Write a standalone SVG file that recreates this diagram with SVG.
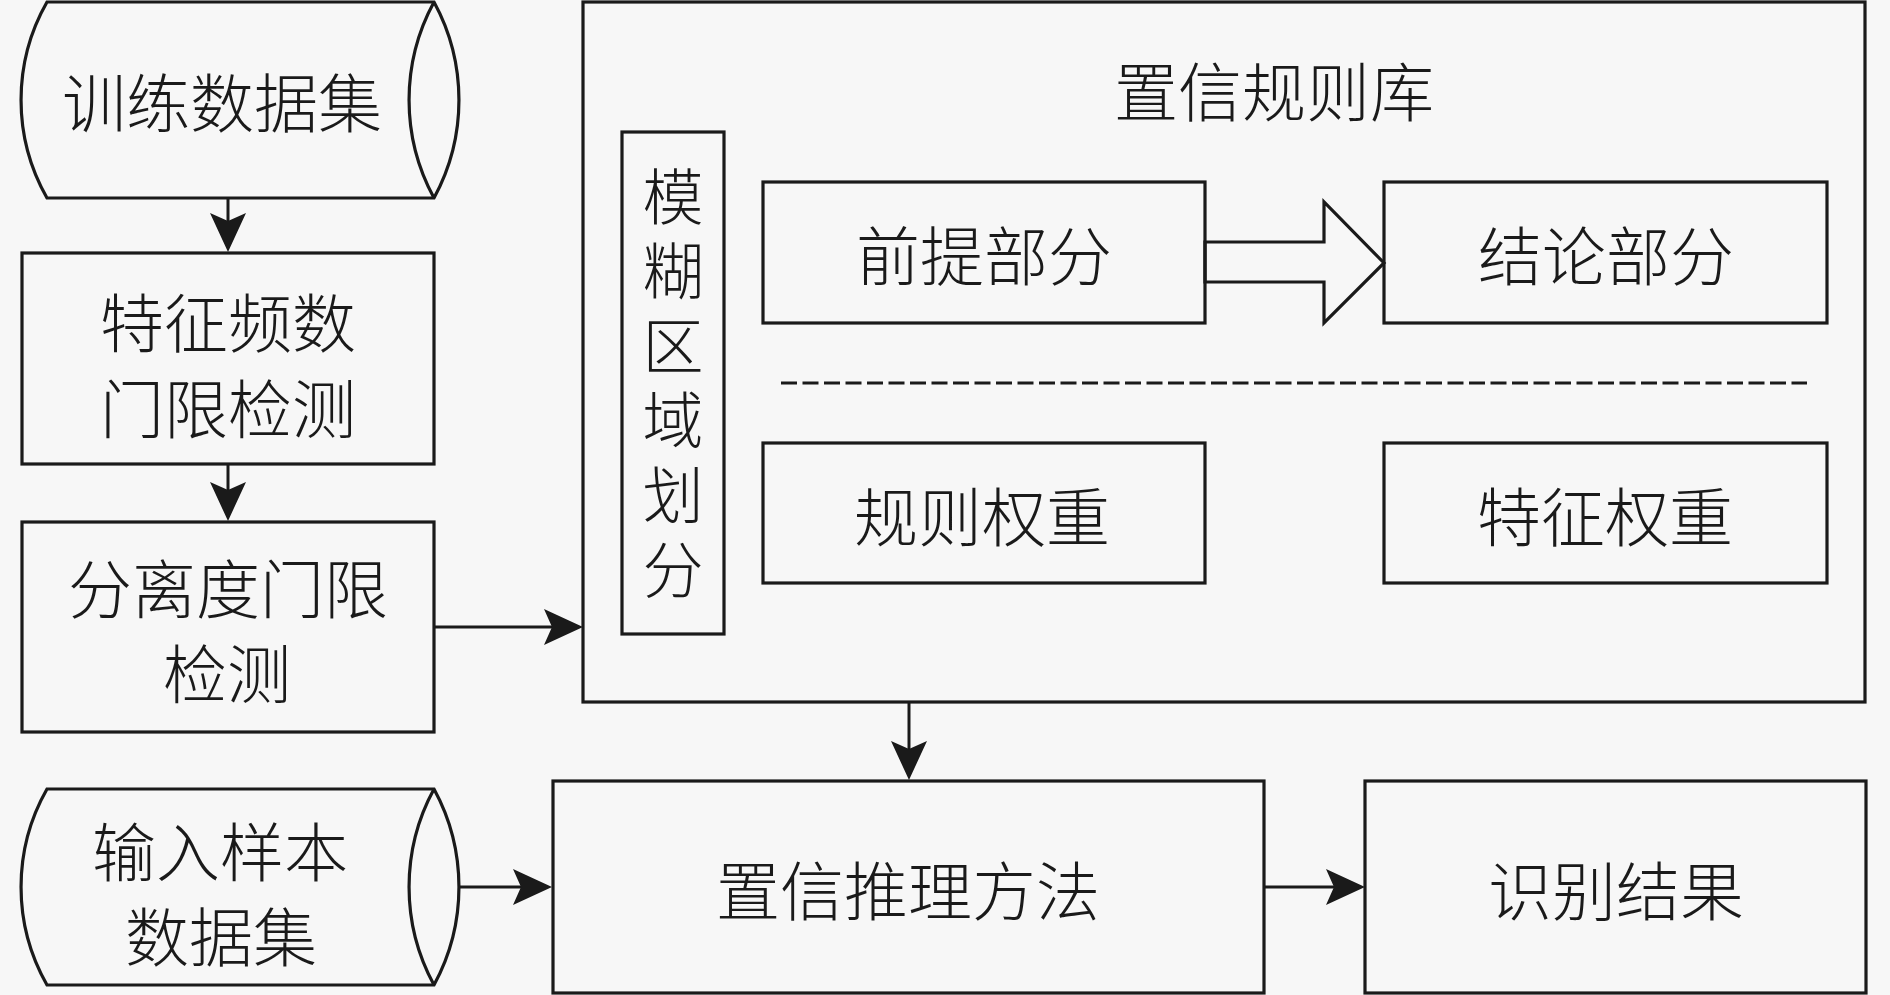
<svg xmlns="http://www.w3.org/2000/svg" width="1890" height="995" viewBox="0 0 1890 995">
<defs>
<style>
.bx{fill:none;stroke:#1a1a1a;stroke-width:3.2}
.ln{fill:none;stroke:#1a1a1a;stroke-width:3}
.t{font-family:"Noto Sans CJK SC","Noto Sans CJK TC",sans-serif;font-size:64px;font-weight:300;fill:#1a1a1a;text-anchor:middle;dominant-baseline:central}
.tv{font-family:"Noto Sans CJK SC","Noto Sans CJK TC",sans-serif;font-size:61px;font-weight:300;fill:#1a1a1a;text-anchor:start;writing-mode:vertical-rl;letter-spacing:13.6px}
</style>
<marker id="ah" viewBox="-40 -20 42 40" markerWidth="42" markerHeight="40" refX="-20" refY="0" orient="auto" markerUnits="userSpaceOnUse">
<path d="M0,0 L-39,-18 L-31,0 L-39,18 Z" fill="#1a1a1a"/>
</marker>
</defs>
<rect x="0" y="0" width="1890" height="995" fill="#f7f7f7"/>

<g id="connectors">
<path class="ln" d="M228,198 V232" marker-end="url(#ah)"/>
<path class="ln" d="M228,465 V501" marker-end="url(#ah)"/>
<path class="ln" d="M434,627 H563" marker-end="url(#ah)"/>
<path class="ln" d="M909,702 V760" marker-end="url(#ah)"/>
<path class="ln" d="M460,887 H532" marker-end="url(#ah)"/>
<path class="ln" d="M1264,887 H1345" marker-end="url(#ah)"/>
<polygon id="hollow-arrow" class="bx" points="1205,242 1324,242 1324,202 1384,263 1324,323 1324,282 1205,282" fill="#f7f7f7"/>
<line id="dash-sep" x1="781" y1="383" x2="1807" y2="383" stroke="#1a1a1a" stroke-width="3" stroke-dasharray="16 5.5"/>
</g>

<g id="train-data">
<path class="bx" d="M47,2 L434,2 A205,205 0 0 1 434,198 L47,198 A198,198 0 0 1 47,2 Z"/>
<path class="bx" d="M434,2 A205,205 0 0 0 434,198"/>
<text class="t" x="222" y="99">训练数据集</text>
</g>

<g id="feature-freq">
<rect class="bx" x="22" y="253" width="412" height="211"/>
<text class="t" x="228" y="319">特征频数</text>
<text class="t" x="228" y="405">门限检测</text>
</g>

<g id="separation">
<rect class="bx" x="22" y="522" width="412" height="210"/>
<text class="t" x="228" y="585">分离度门限</text>
<text class="t" x="227" y="670">检测</text>
</g>

<g id="input-data">
<path class="bx" d="M47,789 L434,789 A205,205 0 0 1 434,985 L47,985 A198,198 0 0 1 47,789 Z"/>
<path class="bx" d="M434,789 A205,205 0 0 0 434,985"/>
<text class="t" x="220" y="848">输入样本</text>
<text class="t" x="221" y="933">数据集</text>
</g>

<g id="rule-base">
<rect class="bx" x="583" y="2" width="1282" height="700"/>
<text class="t" x="1274" y="88">置信规则库</text>
</g>

<g id="fuzzy-partition">
<rect class="bx" x="622" y="132" width="102" height="502"/>
<text class="tv" x="673" y="166">模糊区域划分</text>
</g>

<g id="premise">
<rect class="bx" x="763" y="182" width="442" height="141"/>
<text class="t" x="984" y="252">前提部分</text>
</g>

<g id="conclusion">
<rect class="bx" x="1384" y="182" width="443" height="141"/>
<text class="t" x="1606" y="252">结论部分</text>
</g>

<g id="rule-weight">
<rect class="bx" x="763" y="443" width="442" height="140"/>
<text class="t" x="982" y="513">规则权重</text>
</g>

<g id="feature-weight">
<rect class="bx" x="1384" y="443" width="443" height="140"/>
<text class="t" x="1605" y="513">特征权重</text>
</g>

<g id="reasoning">
<rect class="bx" x="553" y="781" width="711" height="212"/>
<text class="t" x="908" y="887">置信推理方法</text>
</g>

<g id="result">
<rect class="bx" x="1365" y="781" width="501" height="212"/>
<text class="t" x="1616" y="887">识别结果</text>
</g>
</svg>
